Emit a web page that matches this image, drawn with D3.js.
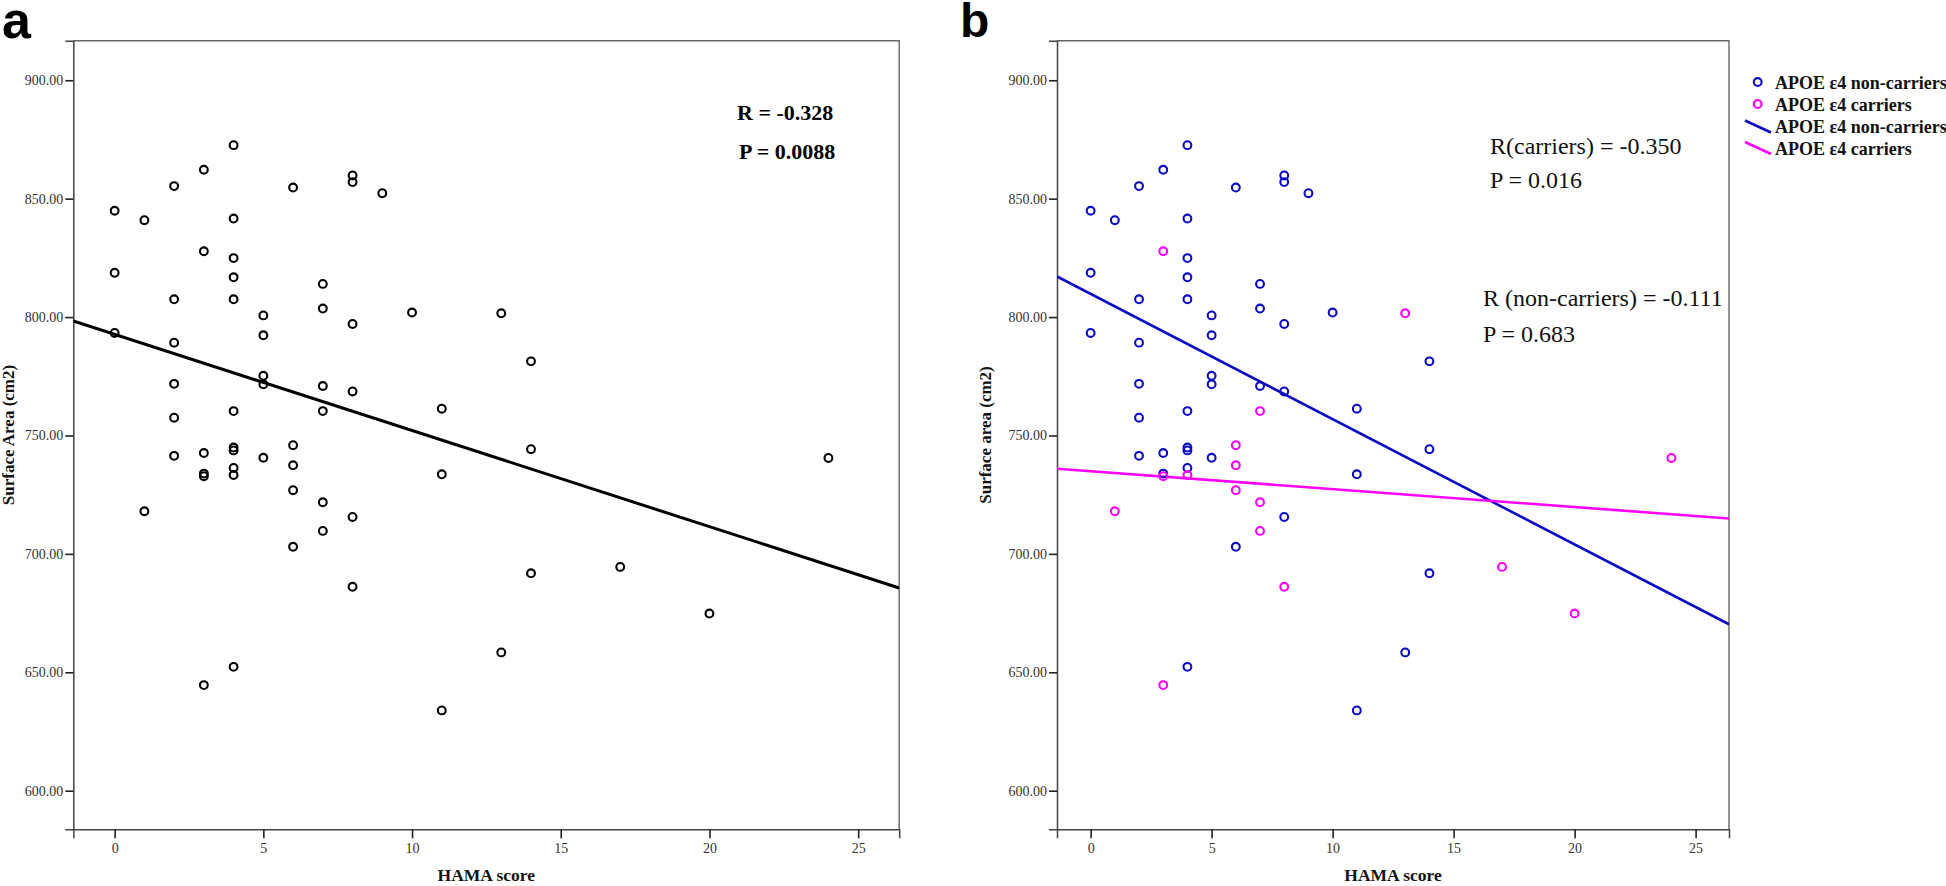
<!DOCTYPE html>
<html><head><meta charset="utf-8">
<script src="https://cdn.jsdelivr.net/npm/d3@7"></script>
<style>
html,body{margin:0;padding:0;background:#fff;}
svg{display:block;}
text{font-family:"Liberation Serif","Times New Roman",serif;}
</style></head>
<body>
<script>
// ---------- DATA ----------
// APOE e4 non-carriers: HAMA score / surface area (cm2)
const hamaNon = [0,0,0, 1, 2,2,2,2,2,2, 3,3,3, 4,4,4,4,4,4,4,4,4,4, 5,5,5,5,5, 6,6, 7,7,7, 8,8,8,8,8, 9, 10, 11,11,11, 13, 14,14,14];
const areaNon = [844.9,818.7,793.3, 840.9, 855.3,807.5,789.2,771.8,757.5,741.4, 862.2,742.6,733.9,
  872.6,841.6,824.9,816.8,807.5,760.3,744.9,743.7,736.3,652.3,
  800.7,792.3,775.2,771.6,740.6, 854.7,703.0, 814.0,803.6,770.9, 859.8,857.0,797.1,768.6,715.6,
  852.3, 801.9, 761.3,733.6,633.9, 658.4, 781.3,744.2,691.8];
// APOE e4 carriers
const hamaCar = [1, 3,3,3, 4, 6,6,6, 7,7,7, 8, 13, 17, 20, 24];
const areaCar = [718.0, 827.8,732.8,644.6, 733.3, 745.9,737.4,726.9, 760.3,721.8,709.7, 686.1, 801.6, 694.5, 674.8, 740.5];

// fitted lines: [intercept, slope]
const fitAll = [792.7, -4.06];
const fitNon = [809.8, -5.29];
const fitCar = [734.9, -0.756];

const xTicks = [0,5,10,15,20,25];
const yTicks = [600,650,700,750,800,850,900];
const xDomain = [-1.39, 26.38];
const yDomain = [583.7, 916.7];

const statsA = ["R = -0.328", "P = 0.0088"];
const statsB = ["R(carriers) = -0.350", "P = 0.016", "R (non-carriers) = -0.111", "P = 0.683"];
const legendLabels = ["APOE \u03b54 non-carriers", "APOE \u03b54 carriers", "APOE \u03b54 non-carriers", "APOE \u03b54 carriers"];

const BLUE = "#0b0bc4", MAG = "#ff00ff";

// ---------- DRAW ----------
const svg = d3.select("body").append("svg").attr("width",1946).attr("height",886);
svg.append("rect").attr("width",1946).attr("height",886).attr("fill","#fff");

function panel(box, yTitle){
  const x = d3.scaleLinear().domain(xDomain).range([box.l, box.r]);
  const y = d3.scaleLinear().domain(yDomain).range([box.b, box.t]);
  const g = svg.append("g");
  // top/right frame
  g.append("path").attr("d", `M${box.l},${box.t}H${box.r}V${box.b}`).attr("fill","none").attr("stroke","#666").attr("stroke-width",1.4);
  const ya = g.append("g").attr("transform",`translate(${box.l},0)`)
    .call(d3.axisLeft(y).tickValues(yTicks).tickFormat(d=>d.toFixed(2)).tickSizeOuter(0).tickSize(8).tickPadding(2));
  const xa = g.append("g").attr("transform",`translate(0,${box.b})`)
    .call(d3.axisBottom(x).tickValues(xTicks).tickFormat(d3.format("d")).tickSizeOuter(0).tickSize(9).tickPadding(5));
  [ya,xa].forEach(a=>{
    a.select(".domain").attr("stroke","#444").attr("stroke-width",1.5);
    a.selectAll(".tick line").attr("stroke","#222").attr("stroke-width",1.6);
    a.selectAll(".tick text").attr("fill","#333").style("font-family",'"Liberation Serif",serif').style("font-size","14px");
  });
  g.append("text").attr("x",(box.l+box.r)/2).attr("y",881).attr("text-anchor","middle")
    .style("font-weight","bold").style("font-size","17.5px").attr("fill","#111").text("HAMA score");
  g.append("text").attr("transform",`translate(${box.yt},${(box.t+box.b)/2}) rotate(-90)`).attr("text-anchor","middle")
    .style("font-weight","bold").style("font-size","17px").attr("fill","#111").text(yTitle);
  const clip = "clip"+Math.round(box.l);
  svg.append("clipPath").attr("id",clip).append("rect").attr("x",box.l).attr("y",box.t).attr("width",box.r-box.l).attr("height",box.b-box.t);
  const plot = g.append("g").attr("clip-path",`url(#${clip})`);
  return {x,y,g,plot};
}

function fitLine(p, fit, color, w){
  const line = d3.line().x(d=>p.x(d)).y(d=>p.y(fit[0]+fit[1]*d));
  p.plot.append("path").attr("d", line(xDomain)).attr("fill","none").attr("stroke",color).attr("stroke-width",w);
}
function dots(p, xs, ys, color){
  p.plot.selectAll(null).data(xs).enter().append("circle")
    .attr("cx",d=>p.x(d)).attr("cy",(d,i)=>p.y(ys[i])).attr("r",3.9)
    .attr("fill","none").attr("stroke",color).attr("stroke-width",2.1);
}

// Panel a
const pa = panel({l:73.3, r:899.2, t:40.7, b:829.3, yt:14}, "Surface Area (cm2)");
fitLine(pa, fitAll, "#000", 3);
dots(pa, hamaNon.concat(hamaCar), areaNon.concat(areaCar), "#000");
pa.g.append("text").attr("x",737).attr("y",120).style("font-weight","bold").style("font-size","22px").text(statsA[0]);
pa.g.append("text").attr("x",739).attr("y",159).style("font-weight","bold").style("font-size","22px").text(statsA[1]);

// Panel b
const pb = panel({l:1057, r:1729, t:40.7, b:829.3, yt:991}, "Surface area (cm2)");
fitLine(pb, fitNon, BLUE, 2.6);
fitLine(pb, fitCar, MAG, 2.6);
dots(pb, hamaNon, areaNon, BLUE);
dots(pb, hamaCar, areaCar, MAG);
const bpos = [[1490,154],[1490,188],[1483,306],[1483,342]];
statsB.forEach((s,i)=>pb.g.append("text").attr("x",bpos[i][0]).attr("y",bpos[i][1]).style("font-size","24px").attr("fill","#111").text(s));

// legend
const lg = svg.append("g");
const rowsY = [82,104,126.5,148];
[BLUE,MAG].forEach((c,i)=>lg.append("circle").attr("cx",1757.7).attr("cy",rowsY[i]).attr("r",3.9).attr("fill","none").attr("stroke",c).attr("stroke-width",2.1));
[BLUE,MAG].forEach((c,i)=>lg.append("line").attr("x1",1745).attr("x2",1771).attr("y1",rowsY[i+2]-6).attr("y2",rowsY[i+2]+6).attr("stroke",c).attr("stroke-width",2.6));
legendLabels.forEach((s,i)=>lg.append("text").attr("x",1775).attr("y",rowsY[i]+6.5).style("font-weight","bold").style("font-size","18px").attr("fill","#111").text(s));

// panel letters
svg.append("text").attr("x",2).attr("y",38).style("font-family",'"Liberation Sans",Arial,sans-serif').style("font-weight","bold").style("font-size","52px").text("a");
svg.append("text").attr("x",960).attr("y",37).style("font-family",'"Liberation Sans",Arial,sans-serif').style("font-weight","bold").style("font-size","48px").text("b");
</script>
</body></html>
